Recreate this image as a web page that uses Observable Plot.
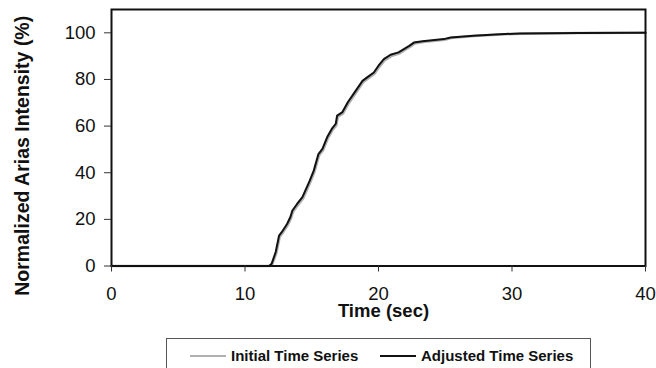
<!DOCTYPE html>
<html>
<head>
<meta charset="utf-8">
<script src="https://cdn.jsdelivr.net/npm/d3@7"></script>
<script src="https://cdn.jsdelivr.net/npm/@observablehq/plot@0.6"></script>
<style>
  html, body { margin: 0; padding: 0; background: #fff; overflow: hidden; }
  #wrap { position: relative; width: 656px; height: 368px; font-family: "Liberation Sans", Arial, sans-serif; }
  #legend { position: absolute; left: 166px; top: 338px; width: 425px; height: 40px; border: 1px solid #555; box-sizing: border-box; }
  .item { position: absolute; top: 8px; font-weight: bold; font-size: 15px; color: #111; line-height: 18px; white-space: nowrap; }
  .swatch { display: inline-block; width: 36px; height: 0; vertical-align: middle; margin-right: 5px; position: relative; top: -1px; }
</style>
</head>
<body>
<div id="wrap">
  <div id="chart"></div>
  <div id="legend">
    <div class="item" style="left:23px"><span class="swatch" style="border-top:2px solid #b0b0b0"></span>Initial Time Series</div>
    <div class="item" style="left:213px"><span class="swatch" style="border-top:2px solid #111"></span>Adjusted Time Series</div>
  </div>
</div>
<script>
// Adjusted time series (black)
const adjTime = [0, 11.8, 12.0, 12.3, 12.55, 12.75, 13.15, 13.4, 13.55, 13.9, 14.3, 14.65, 14.85, 15.15, 15.5, 15.8, 16.15, 16.5, 16.8, 16.9, 17.3, 17.7, 18.3, 18.8, 19.15, 19.65, 20.0, 20.4, 20.9, 21.5, 21.9, 22.3, 22.65, 23.3, 24.9, 25.4, 27.1, 29.1, 30.6, 35, 40];
const adjValue = [0, 0, 1, 6, 13, 14.5, 18, 21, 23.8, 26.6, 29.5, 34, 36.6, 40.9, 48, 50.2, 55.2, 58.8, 61, 64.5, 66, 70.2, 75.2, 79.4, 80.9, 83, 85.9, 88.7, 90.6, 91.6, 93, 94.4, 95.8, 96.4, 97.3, 98, 98.7, 99.4, 99.7, 99.9, 100];
// Initial time series (gray)
const initTime = [0, 11.85, 12.05, 12.35, 12.6, 12.8, 13.2, 13.45, 13.6, 13.95, 14.35, 14.7, 14.9, 15.2, 15.55, 15.85, 16.2, 16.55, 16.85, 16.95, 17.35, 17.75, 18.35, 18.85, 19.2, 19.7, 20.05, 20.45, 20.95, 21.55, 21.95, 22.35, 22.7, 23.35, 24.95, 25.45, 27.15, 29.15, 30.65, 35, 40];
const initValue = [0, 0, 0.8, 5.5, 12.4, 14, 17.5, 20.4, 23.2, 26, 29, 33.4, 36, 40.3, 47.4, 49.6, 54.6, 58.2, 60.4, 63.9, 65.4, 69.6, 74.6, 78.8, 80.3, 82.4, 85.3, 88.1, 90, 91.1, 92.5, 93.9, 95.4, 96.1, 97, 97.8, 98.6, 99.3, 99.6, 99.9, 100];
const xTicks = [0, 10, 20, 30, 40];
const yTicks = [0, 20, 40, 60, 80, 100];

const adjusted = adjTime.map((t, i) => ({t, v: adjValue[i]}));
const initial = initTime.map((t, i) => ({t, v: initValue[i]}));

const chart = Plot.plot({
  width: 656,
  height: 330,
  marginLeft: 111,
  marginRight: 11,
  marginTop: 9,
  marginBottom: 64.5,
  style: {fontFamily: "'Liberation Sans', Arial, sans-serif", background: "#fff", color: "#111"},
  x: {domain: [0, 40]},
  y: {domain: [0, 110]},
  marks: [
    Plot.line(initial, {x: "t", y: "v", stroke: "#b0b0b0", strokeWidth: 2.5}),
    Plot.line(adjusted, {x: "t", y: "v", stroke: "#111", strokeWidth: 2}),
    Plot.frame({stroke: "#111", strokeWidth: 2}),
    Plot.axisX({ticks: xTicks, tickSize: 6, tickPadding: 15, fontSize: 18.5, label: null, stroke: "#333"}),
    Plot.axisY({ticks: yTicks, tickSize: 7, tickPadding: 9, fontSize: 18.5, label: null, stroke: "#333"}),
    Plot.text(["Time (sec)"], {frameAnchor: "bottom", dy: 51, dx: 5, fontSize: 18.5, fontWeight: "bold", fill: "#111"}),
    Plot.text(["Normalized Arias Intensity (%)"], {frameAnchor: "left", textAnchor: "middle", dx: -89, dy: 18, rotate: -90, fontSize: 19.5, fontWeight: "bold", fill: "#111"})
  ]
});
document.getElementById("chart").appendChild(chart);
</script>
</body>
</html>
